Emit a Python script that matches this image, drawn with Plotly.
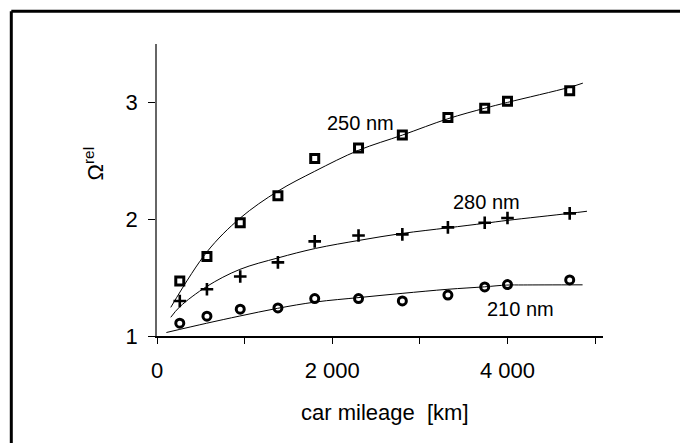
import plotly.graph_objects as go

# ---- data ----
mileage = [260, 570, 950, 1380, 1800, 2300, 2800, 3320, 3740, 4000, 4710]
omega_250 = [1.47, 1.68, 1.97, 2.20, 2.52, 2.61, 2.72, 2.87, 2.95, 3.01, 3.10]
omega_280 = [1.30, 1.40, 1.51, 1.63, 1.81, 1.86, 1.87, 1.93, 1.97, 2.01, 2.05]
omega_210 = [1.11, 1.17, 1.23, 1.24, 1.32, 1.32, 1.30, 1.35, 1.42, 1.44, 1.48]

fit250_x = [157, 570, 950, 1380, 1800, 2300, 2800, 3320, 3740, 4000, 4710, 4860]
fit250_y = [1.245, 1.72, 2.01, 2.24, 2.41, 2.59, 2.72, 2.86, 2.95, 3.00, 3.13, 3.165]
fit280_x = [157, 260, 570, 945, 1383, 1810, 2317, 2797, 3319, 3740, 4000, 4710, 4907]
fit280_y = [1.16, 1.25, 1.425, 1.57, 1.669, 1.75, 1.82, 1.878, 1.926, 1.965, 1.99, 2.05, 2.068]
fit210_x = [107, 565, 945, 1376, 1810, 2317, 2797, 3319, 3737, 3989, 4180, 4857]
fit210_y = [1.03, 1.109, 1.171, 1.237, 1.291, 1.33, 1.365, 1.40, 1.421, 1.436, 1.437, 1.438]

x_tickvals = [0, 2000, 4000]
x_ticktext = ["0", "2\u00a0000", "4\u00a0000"]
y_tickvals = [1, 2, 3]
y_ticktext = ["1", "2", "3"]

labels = ["250 nm", "280 nm", "210 nm"]

FONT = "Arial, Liberation Sans, sans-serif"

fig = go.Figure()

for fx, fy in [(fit250_x, fit250_y), (fit280_x, fit280_y), (fit210_x, fit210_y)]:
    fig.add_trace(go.Scatter(x=fx, y=fy, mode="lines",
                             line=dict(color="black", width=1, shape="spline", smoothing=1.0),
                             hoverinfo="skip", showlegend=False))

fig.add_trace(go.Scatter(x=mileage, y=omega_250, mode="markers", showlegend=False,
                         marker=dict(symbol="square-open", size=8, color="black",
                                     line=dict(color="black", width=3))))
fig.add_trace(go.Scatter(x=mileage, y=omega_280, mode="markers", showlegend=False,
                         marker=dict(symbol="cross-thin-open", size=9, color="black",
                                     line=dict(color="black", width=2.6))))
fig.add_trace(go.Scatter(x=mileage, y=omega_210, mode="markers", showlegend=False,
                         marker=dict(symbol="circle-open", size=8, color="black",
                                     line=dict(color="black", width=3))))

L, R, T, B = 157, 77, 44, 107
W, H = 680, 443
pw, ph = W - L - R, H - T - B


def px(x):
    return (x - L) / pw


def py(y):
    return (H - B - y) / ph


fig.update_layout(
    width=W, height=H,
    margin=dict(l=L, r=R, t=T, b=B),
    paper_bgcolor="white", plot_bgcolor="white",
    font=dict(family=FONT, color="black", size=22),
    xaxis=dict(range=[0, 5090], showgrid=False, zeroline=False,
               showline=True, linecolor="black", linewidth=1.5,
               ticks="outside", ticklen=6, tickwidth=1, tickcolor="black",
               tickvals=x_tickvals, ticktext=x_ticktext,
               minor=dict(ticks="outside", ticklen=6, tickwidth=1, tickcolor="black",
                          tick0=0, dtick=1000, showgrid=False),
               ticklabelstandoff=8,
               tickfont=dict(size=22, family=FONT)),
    yaxis=dict(range=[1, 3.5], showgrid=False, zeroline=False,
               showline=True, linecolor="#666666", linewidth=1.5,
               ticks="outside", ticklen=7, tickwidth=1, tickcolor="black",
               tickvals=y_tickvals, ticktext=y_ticktext,
               ticklabelstandoff=6,
               tickfont=dict(size=22, family=FONT)),
)

ann_pos = [(360, 123), (486, 201.7), (520, 309.3)]
for text, (ax, ay) in zip(labels, ann_pos):
    fig.add_annotation(x=px(ax), y=py(ay), xref="paper", yref="paper", text=text,
                       showarrow=False, font=dict(size=20, family=FONT, color="black"),
                       xanchor="center", yanchor="middle")

fig.add_annotation(x=px(93), y=py(163.5), xref="paper", yref="paper",
                   text="Ω<sup>rel</sup>", textangle=-90, showarrow=False,
                   font=dict(size=22, family=FONT, color="black"),
                   xanchor="center", yanchor="middle")
fig.add_annotation(x=px(384.5), y=py(412), xref="paper", yref="paper",
                   text="car mileage\u00a0\u00a0[km]", showarrow=False,
                   font=dict(size=22, family=FONT, color="black"),
                   xanchor="center", yanchor="middle")

# outer frame (top and left edges visible)
fig.add_shape(type="line", xref="paper", yref="paper",
              x0=px(11.3), y0=py(11.3), x1=px(700), y1=py(11.3),
              line=dict(color="black", width=3))
fig.add_shape(type="line", xref="paper", yref="paper",
              x0=px(11.3), y0=py(11.3), x1=px(11.3), y1=py(460),
              line=dict(color="black", width=3))

fig.write_html("out.html",
               config={"displayModeBar": False},
               post_script="document.body.style.margin='0';document.body.style.overflow='hidden';")
